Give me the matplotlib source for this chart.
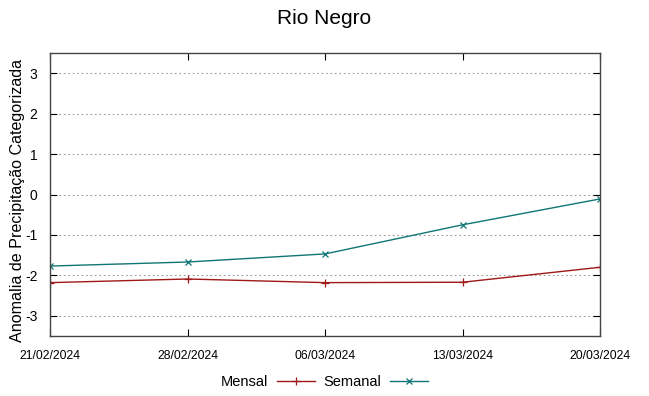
import matplotlib
matplotlib.use("Agg")
import matplotlib.pyplot as plt
import numpy as np

dates = ["21/02/2024", "28/02/2024", "06/03/2024", "13/03/2024", "20/03/2024"]
mensal = [-2.18, -2.09, -2.18, -2.17, -1.80]
semanal = [-1.77, -1.67, -1.47, -0.75, -0.11]
yticks = [-3, -2, -1, 0, 1, 2, 3]

plt.rcParams["font.family"] = ["Liberation Sans", "DejaVu Sans"]

fig = plt.figure(figsize=(6.49, 3.96), dpi=100)
ax = fig.add_axes([50 / 649, 60 / 396, 550 / 649, 283 / 396])

x = np.arange(len(dates))
ax.plot(x, mensal, color="#a01818", lw=1.0, marker="+", ms=6, mew=0.9, label="Mensal")
ax.plot(x, semanal, color="#107575", lw=1.0, marker="x", ms=5, mew=0.9, label="Semanal")

ax.set_xlim(0, len(dates) - 1)
ax.set_ylim(-3.5, 3.5)
ax.set_xticks(x)
ax.set_xticklabels(dates, fontsize=8.8, fontstretch="condensed")
ax.set_yticks(yticks)
ax.set_yticklabels([str(v) for v in yticks], fontsize=10)
ax.tick_params(direction="in", top=True, right=True, length=5, width=0.8, pad=9)
ax.tick_params(axis="x", pad=10)
ax.yaxis.grid(True, linestyle=(0, (1.5, 2.5)), color="#999999", lw=0.8)

for s in ax.spines.values():
    s.set_color("#444444")
    s.set_linewidth(1.0)

fig.text(18 / 649, 1 - 201 / 396, "Anomalia de Precipitação Categorizada",
         rotation=90, ha="center", va="center", fontsize=11.6)
fig.text(0.5, 1 - 18 / 396, "Rio Negro", ha="center", va="center", fontsize=15)

fig.legend(loc="center", bbox_to_anchor=(0.5, 1 - 382 / 396), ncol=2, frameon=False,
           markerfirst=False, fontsize=10.5, handlelength=2.6, columnspacing=0.6,
           handletextpad=0.6)

fig.savefig("out.png", dpi=100)
